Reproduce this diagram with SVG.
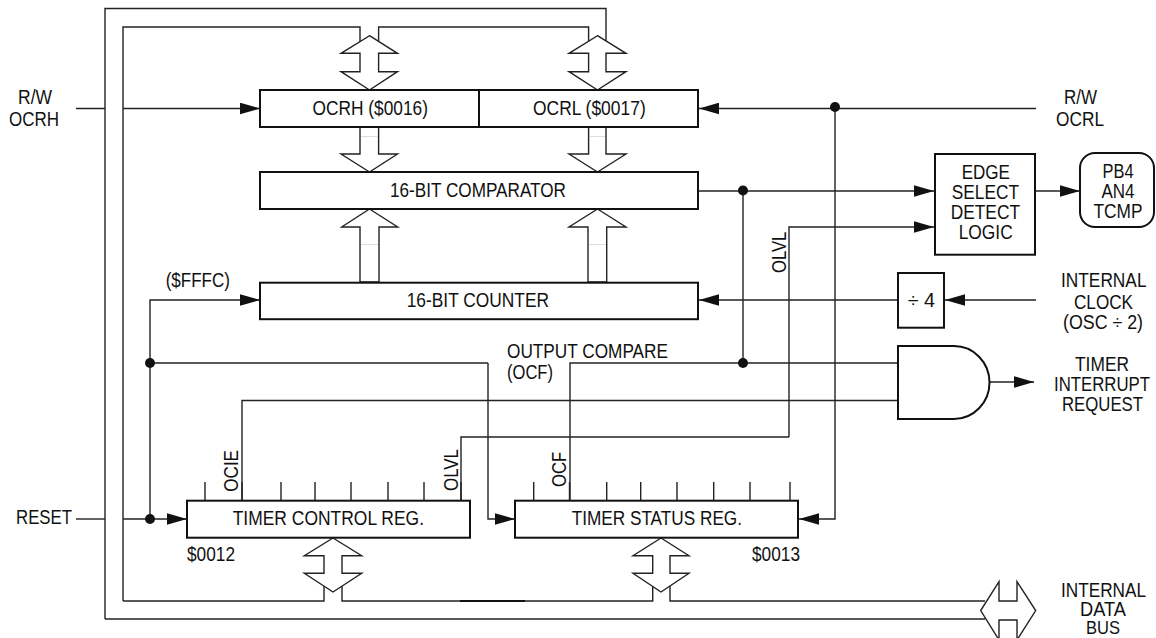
<svg xmlns="http://www.w3.org/2000/svg" width="1156" height="638" viewBox="0 0 1156 638">
<style>
text{font-family:"Liberation Sans",Arial,sans-serif;font-size:19.5px;fill:#111}
.w{fill:none;stroke:#222;stroke-width:1.4}
.b{fill:#fff;stroke:#111;stroke-width:2}
.bus{fill:#fff;stroke:#222;stroke-width:1.4;stroke-linejoin:miter}
.f{fill:none;stroke:#ddd;stroke-width:1}
.arr{marker-end:url(#a)}
.dot{fill:#111}
</style>
<defs>
<marker id="a" markerUnits="userSpaceOnUse" markerWidth="20" markerHeight="12" viewBox="0 0 20 12" refX="20" refY="6" orient="auto"><path d="M0 0.2L20 6L0 11.8Z" fill="#111"/></marker>
</defs>
<rect width="1156" height="638" fill="#fff"/>
<g id="connectors">
<path class="w" d="M105 619V8.5H606V45"/>
<path class="w" d="M123 601V27H360V45M378.6 45V27H588.6V45"/>
<path class="w" d="M123 601H324V575M342 575V601H652.7V575M670 575V601H985M105 619H985"/>
<path fill="none" stroke="#111" stroke-width="2" d="M460 601H525"/>
<path class="w" d="M76 108.5H105M123 108.5H260" marker-end="url(#a)"/>
<path class="w arr" d="M1036 108.5H699"/>
<path class="w arr" d="M835 108.5V519H799"/>
<path class="w arr" d="M698 191H934"/>
<path class="w" d="M743 191V363"/>
<path class="w arr" d="M789 437V227H934"/>
<path class="w" d="M461 500V437H789"/>
<path class="w arr" d="M1035 191H1080"/>
<path class="w arr" d="M898 300H699"/>
<path class="w arr" d="M1036 300H945"/>
<path class="w" d="M570 500V363H898"/>
<path class="w" d="M242 500V400.500H898"/>
<path class="w arr" d="M488 363V519H515"/>
<path class="w" d="M150 363H488"/>
<path class="w arr" d="M150 519V300H260"/>
<path class="w" d="M76 519H105"/>
<path class="w arr" d="M123 519H187"/>
<path class="w arr" d="M990 382H1034"/>
<path class="w" d="M205 482V500M242 482V500M281 482V500M315 482V500M351 482V500M388 482V500M424 482V500M461 482V500M533.700 482V500M569.500 482V500M606.700 482V500M640.700 482V500M677 482V500M713.700 482V500M750 482V500M790 482V500"/>
<circle class="dot" cx="835" cy="107" r="5"/>
<circle class="dot" cx="743" cy="190.500" r="5"/>
<circle class="dot" cx="743" cy="363" r="5"/>
<circle class="dot" cx="150" cy="363" r="5"/>
<circle class="dot" cx="150" cy="519" r="5"/>
<polygon class="bus" points="369.500,35.700 397.500,53.300 378.600,53.300 378.600,71.700 397.500,71.700 369.500,90 341,71.700 360,71.700 360,53.300 341,53.300"/>
<polygon class="bus" points="597.500,35.700 626,53.300 606,53.300 606,71.700 626,71.700 597.500,90 569,71.700 588.600,71.700 588.600,53.300 569,53.300"/>
<polygon class="bus" points="360,127 378.600,127 378.600,154 397.500,154 369.500,172 341,154 360,154"/>
<polygon class="bus" points="588.600,127 606,127 606,154 626,154 597.500,172 569,154 588.600,154"/>
<polygon class="bus" points="369.500,209 397.700,227 379,227 379,282 360,282 360,227 341.700,227"/>
<polygon class="bus" points="597.500,209 626,227 606.700,227 606.700,282 588,282 588,227 569,227"/>
<path class="f" d="M361 136.500H378M590 136.500H605M361 244.500H378M589 244.500H606"/>
<polygon class="bus" points="333,538 361.700,555.700 342,555.700 342,573.300 361.700,573.300 333,592 304.300,573.300 324,573.300 324,555.700 304.300,555.700"/>
<polygon class="bus" points="661,538 689,555.700 670,555.700 670,573.300 689,573.300 661,592 633,573.300 652.700,573.300 652.700,555.700 633,555.700"/>
<polygon class="bus" points="980.700,610.500 999,581.700 999,601 1017,601 1017,581.700 1035.700,610.500 1017,640 1017,620 999,620 999,640"/>
</g>
<g id="ocrh"><rect class="b" x="260" y="90" width="219" height="37"/><text x="312.500" y="115" textLength="115.500" lengthAdjust="spacingAndGlyphs">OCRH ($0016)</text></g>
<g id="ocrl"><rect class="b" x="479" y="90" width="219" height="37"/><text x="533" y="115" textLength="112.700" lengthAdjust="spacingAndGlyphs">OCRL ($0017)</text></g>
<g id="comparator"><rect class="b" x="260" y="172" width="438" height="37"/><text x="390" y="196.700" textLength="176" lengthAdjust="spacingAndGlyphs">16-BIT COMPARATOR</text></g>
<g id="counter"><rect class="b" x="260" y="282.700" width="438" height="36.500"/><text x="406.700" y="306.700" textLength="142.300" lengthAdjust="spacingAndGlyphs">16-BIT COUNTER</text></g>
<g id="edge-logic"><rect class="b" x="935" y="154" width="100" height="100.700"/>
<text x="961.700" y="179" textLength="48.300" lengthAdjust="spacingAndGlyphs">EDGE</text>
<text x="951.700" y="199" textLength="67.300" lengthAdjust="spacingAndGlyphs">SELECT</text>
<text x="950.700" y="219" textLength="69.300" lengthAdjust="spacingAndGlyphs">DETECT</text>
<text x="958.700" y="239" textLength="54" lengthAdjust="spacingAndGlyphs">LOGIC</text></g>
<g id="pin"><rect class="b" x="1080" y="153" width="74" height="74" rx="15"/>
<text x="1102.500" y="178" textLength="31" lengthAdjust="spacingAndGlyphs">PB4</text>
<text x="1101.500" y="197.500" textLength="33" lengthAdjust="spacingAndGlyphs">AN4</text>
<text x="1093.500" y="218" textLength="49" lengthAdjust="spacingAndGlyphs">TCMP</text></g>
<g id="div4"><rect class="b" x="898" y="273" width="46" height="54.700"/><text x="907.700" y="306.700" textLength="27.300" lengthAdjust="spacingAndGlyphs">÷ 4</text></g>
<g id="and-gate"><path class="b" d="M898 346H954A35.500 36.500 0 0 1 954 419H898Z"/></g>
<g id="tcr"><rect class="b" x="187" y="500.700" width="283" height="37"/><text x="232.700" y="525" textLength="191.300" lengthAdjust="spacingAndGlyphs">TIMER CONTROL REG.</text></g>
<g id="tsr"><rect class="b" x="515" y="500.700" width="283" height="37"/><text x="571.700" y="525" textLength="170.300" lengthAdjust="spacingAndGlyphs">TIMER STATUS REG.</text></g>
<g id="labels">
<text x="18" y="104" textLength="34" lengthAdjust="spacingAndGlyphs">R/W</text>
<text x="9" y="125.700" textLength="50" lengthAdjust="spacingAndGlyphs">OCRH</text>
<text x="16" y="524" textLength="56" lengthAdjust="spacingAndGlyphs">RESET</text>
<text x="1064" y="104" textLength="33" lengthAdjust="spacingAndGlyphs">R/W</text>
<text x="1056" y="125.700" textLength="48" lengthAdjust="spacingAndGlyphs">OCRL</text>
<text x="165.700" y="286.700" textLength="64.300" lengthAdjust="spacingAndGlyphs">($FFFC)</text>
<text x="507" y="358" textLength="161" lengthAdjust="spacingAndGlyphs">OUTPUT COMPARE</text>
<text x="507" y="379" textLength="46" lengthAdjust="spacingAndGlyphs">(OCF)</text>
<text x="187" y="560.700" textLength="48" lengthAdjust="spacingAndGlyphs">$0012</text>
<text x="752" y="560.700" textLength="48" lengthAdjust="spacingAndGlyphs">$0013</text>
<text x="1061" y="287" textLength="85.500" lengthAdjust="spacingAndGlyphs">INTERNAL</text>
<text x="1074" y="309" textLength="59" lengthAdjust="spacingAndGlyphs">CLOCK</text>
<text x="1063" y="329" textLength="80" lengthAdjust="spacingAndGlyphs">(OSC ÷ 2)</text>
<text x="1075" y="370.700" textLength="54" lengthAdjust="spacingAndGlyphs">TIMER</text>
<text x="1054" y="390.700" textLength="96" lengthAdjust="spacingAndGlyphs">INTERRUPT</text>
<text x="1062" y="410.700" textLength="81" lengthAdjust="spacingAndGlyphs">REQUEST</text>
<text x="1061" y="596.700" textLength="85" lengthAdjust="spacingAndGlyphs">INTERNAL</text>
<text x="1080" y="616" textLength="46" lengthAdjust="spacingAndGlyphs">DATA</text>
<text x="1086" y="634" textLength="34" lengthAdjust="spacingAndGlyphs" style="font-size:18px">BUS</text>
<text transform="translate(785.700 273) rotate(-90)" textLength="41.300" lengthAdjust="spacingAndGlyphs">OLVL</text>
<text transform="translate(237.700 491.700) rotate(-90)" textLength="41.700" lengthAdjust="spacingAndGlyphs">OCIE</text>
<text transform="translate(457.700 491) rotate(-90)" textLength="42" lengthAdjust="spacingAndGlyphs">OLVL</text>
<text transform="translate(566 487) rotate(-90)" textLength="35.300" lengthAdjust="spacingAndGlyphs">OCF</text>
</g>
</svg>
